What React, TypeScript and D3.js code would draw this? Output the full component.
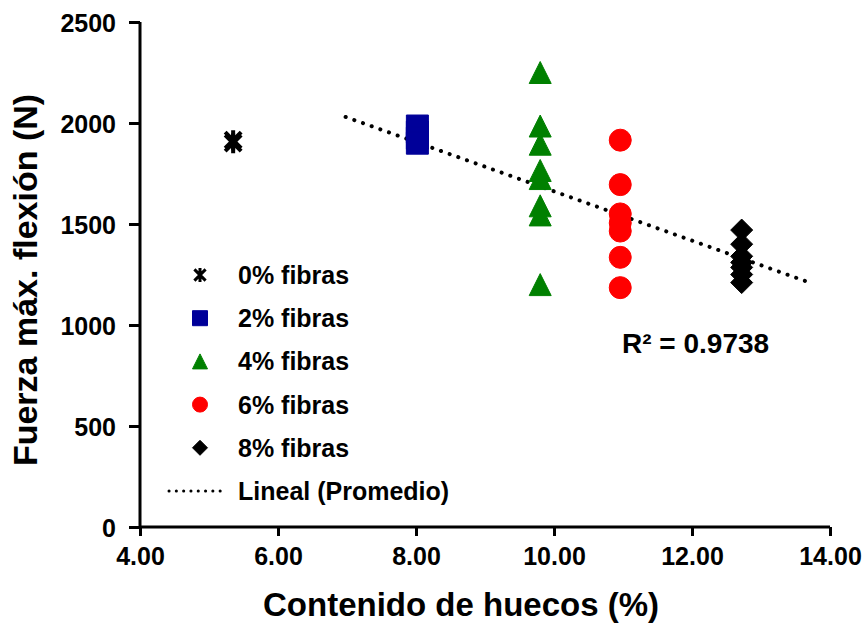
import React, { useRef, useEffect } from "react";
import * as d3 from "d3";

// series: fibre content, void content (x) and max. flexural force (y)
const seriesNames = ["0% fibras", "2% fibras", "4% fibras", "6% fibras", "8% fibras"];
const seriesX = [5.35, 8.02, 9.8, 10.96, 12.72];
const fuerza0 = [1900, 1915];
const fuerza2 = [1985, 1955, 1925, 1900];
const fuerza4 = [2250, 1985, 1895, 1765, 1725, 1590, 1545, 1200];
const fuerza6 = [1915, 1695, 1550, 1505, 1465, 1335, 1185];
const fuerza8 = [1470, 1400, 1340, 1310, 1285, 1250, 1210];
const seriesY = [fuerza0, fuerza2, fuerza4, fuerza6, fuerza8];

// linear trend of the averages (ends)
const trendX = [6.98, 13.68];
const trendY = [2030, 1213];
const trendLabel = "Lineal (Promedio)";
const r2Label = "R² = 0.9738";

const xTicks = [4, 6, 8, 10, 12, 14];
const yTicks = [0, 500, 1000, 1500, 2000, 2500];

const FONT = "'Liberation Sans', Arial, sans-serif";

const markerColors = ["#000000", "#000099", "#008000", "#ff0000", "#000000"];
const markerKinds = ["star", "square", "triangle", "circle", "diamond"];

function markerPath(kind: string, s: number) {
  const h = s / 2;
  const p = d3.path();
  if (kind === "square") {
    p.rect(-h, -h, s, s);
  } else if (kind === "triangle") {
    p.moveTo(0, -h);
    p.lineTo(h, h);
    p.lineTo(-h, h);
    p.closePath();
  } else if (kind === "circle") {
    p.arc(0, 0, h, 0, Math.PI * 2);
  } else if (kind === "diamond") {
    p.moveTo(0, -h);
    p.lineTo(h, 0);
    p.lineTo(0, h);
    p.lineTo(-h, 0);
    p.closePath();
  } else {
    const k = h * 0.8;
    p.moveTo(-k, -k);
    p.lineTo(k, k);
    p.moveTo(k, -k);
    p.lineTo(-k, k);
    p.moveTo(0, -h);
    p.lineTo(0, h);
  }
  return p.toString();
}

function App() {
  const svgRef = useRef<SVGSVGElement>(null);

  useEffect(() => {
    const svg = d3.select(svgRef.current);
    svg.selectAll("*").remove();

    const x = d3.scaleLinear().domain([4, 14]).range([140, 830]);
    const y = d3.scaleLinear().domain([0, 2500]).range([527, 22]);

    // axes
    const yAxis = svg.append("g").attr("transform", `translate(${x(4)},0)`)
      .call(d3.axisLeft(y).tickValues(yTicks).tickSize(11).tickPadding(13).tickFormat(d3.format("d")));
    const xAxis = svg.append("g").attr("transform", `translate(0,${y(0)})`)
      .call(d3.axisBottom(x).tickValues(xTicks).tickSize(9).tickPadding(11).tickFormat(d3.format(".2f")));
    [xAxis, yAxis].forEach(g => {
      g.select(".domain").attr("stroke", "#000").attr("stroke-width", 3)
        .attr("d", g === xAxis ? `M${x(4)},0H${x(14)}` : `M0,${y(0)}V${y(2500)}`);
      g.selectAll(".tick line").attr("stroke", "#000").attr("stroke-width", 3);
      g.selectAll(".tick text").attr("fill", "#000").attr("font-family", FONT)
        .attr("font-weight", "bold").attr("font-size", 25);
    });
    yAxis.selectAll(".tick text").attr("dy", "0.36em");

    // trend line
    const trend = trendX.map((v, i) => [x(v), y(trendY[i])] as [number, number]);
    svg.append("path").attr("d", d3.line()(trend)).attr("fill", "none")
      .attr("stroke", "#000").attr("stroke-width", 4).attr("stroke-linecap", "round")
      .attr("stroke-dasharray", "0.1 9.1");

    // points
    seriesY.forEach((vals, si) => {
      const kind = markerKinds[si];
      const col = markerColors[si];
      const sz = kind === "star" ? 20 : 22;
      svg.append("g").selectAll("path").data(vals).join("path")
        .attr("transform", v => `translate(${x(seriesX[si])},${y(v)})`)
        .attr("d", markerPath(kind, sz))
        .attr("fill", kind === "star" ? "none" : col)
        .attr("stroke", col)
        .attr("stroke-width", kind === "star" ? 4 : 1);
    });

    // legend
    const lg = svg.append("g").attr("font-family", FONT).attr("font-weight", "bold").attr("font-size", 25);
    seriesNames.forEach((name, i) => {
      const cy = 275 + i * 43.2;
      lg.append("path").attr("transform", `translate(200,${cy})`)
        .attr("d", markerPath(markerKinds[i], markerKinds[i] === "star" ? 14 : 15))
        .attr("fill", markerKinds[i] === "star" ? "none" : markerColors[i])
        .attr("stroke", markerColors[i]).attr("stroke-width", markerKinds[i] === "star" ? 3 : 1);
      lg.append("text").attr("x", 238).attr("y", cy + 9).text(name);
    });
    lg.append("line").attr("x1", 169).attr("x2", 227).attr("y1", 491).attr("y2", 491)
      .attr("stroke", "#000").attr("stroke-width", 3).attr("stroke-linecap", "round")
      .attr("stroke-dasharray", "0.1 7.2");
    lg.append("text").attr("x", 238).attr("y", 500).text(trendLabel);

    svg.append("text").attr("x", 622).attr("y", 353).attr("font-family", FONT)
      .attr("font-weight", "bold").attr("font-size", 28).text(r2Label);

    // axis titles
    svg.append("text").attr("x", 461).attr("y", 616).attr("text-anchor", "middle")
      .attr("font-family", FONT).attr("font-weight", "bold").attr("font-size", 33)
      .text("Contenido de huecos (%)");
    svg.append("text").attr("transform", "translate(37,280) rotate(-90)").attr("text-anchor", "middle")
      .attr("font-family", FONT).attr("font-weight", "bold").attr("font-size", 34)
      .text("Fuerza máx. flexión (N)");
  }, []);

  return (
    <svg ref={svgRef} width={866} height={624}
      style={{ position: "absolute", left: 0, top: 0, background: "#fff" }} />
  );
}

export default App;
